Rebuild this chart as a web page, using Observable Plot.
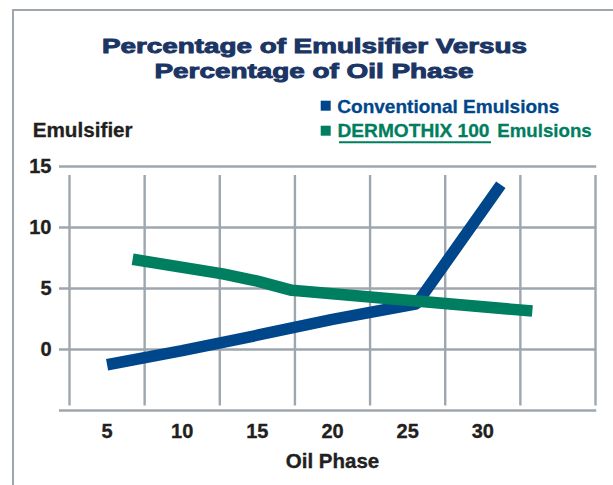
<!DOCTYPE html>
<html>
<head>
<meta charset="utf-8">
<script src="https://cdn.jsdelivr.net/npm/d3@7"></script>
<script src="https://cdn.jsdelivr.net/npm/@observablehq/plot@0.6"></script>
<style>
  html, body { margin: 0; padding: 0; background: #fff; }
  #wrap { position: relative; width: 613px; height: 485px; overflow: hidden; font-family: "Liberation Sans", Arial, sans-serif; }
  #frame { position: absolute; left: 11.5px; top: 8.7px; width: 700px; height: 600px; border-top: 2.6px solid #9ea6ae; border-left: 2.6px solid #9ea6ae; }
  #chart { position: absolute; left: 0; top: 0; }
  #overlay { position: absolute; left: 0; top: 0; pointer-events: none; }
</style>
</head>
<body>
<div id="wrap">
  <div id="frame"></div>
  <div id="chart"></div>
  <svg id="overlay" width="613" height="485" xmlns="http://www.w3.org/2000/svg" font-family="Liberation Sans, Arial, sans-serif" font-weight="bold">
    <text x="102" y="52.5" font-size="20" fill="#1b3565" stroke="#1b3565" stroke-width="0.9" textLength="425" lengthAdjust="spacingAndGlyphs">Percentage of Emulsifier Versus</text>
    <text x="154.5" y="77.5" font-size="20" fill="#1b3565" stroke="#1b3565" stroke-width="0.9" textLength="319" lengthAdjust="spacingAndGlyphs">Percentage of Oil Phase</text>

    <rect x="320.7" y="100.7" width="10" height="10" fill="#00468b"></rect>
    <text x="337.3" y="113" font-size="18.5" fill="#00468b" stroke="#00468b" stroke-width="0.3" textLength="222" lengthAdjust="spacingAndGlyphs">Conventional Emulsions</text>

    <rect x="320.7" y="125.7" width="10" height="10" fill="#007e60"></rect>
    <text x="337.5" y="137" font-size="18.5" fill="#007e60" stroke="#007e60" stroke-width="0.3" textLength="152" lengthAdjust="spacingAndGlyphs">DERMOTHIX 100</text>
    <text x="497.3" y="137" font-size="18.5" fill="#007e60" stroke="#007e60" stroke-width="0.3" textLength="94.4" lengthAdjust="spacingAndGlyphs">Emulsions</text>
    <line x1="339" x2="491" y1="142.3" y2="142.3" stroke="#007e60" stroke-width="2"></line>

    <text x="32.7" y="136.5" font-size="19.5" fill="#231f20" stroke="#231f20" stroke-width="0.3" textLength="100" lengthAdjust="spacingAndGlyphs">Emulsifier</text>
  </svg>
</div>
<script>
// Data
const oilConventional = [5, 10, 15, 20, 25.6, 31.2];
const emulsifierConventional = [-1.25, -0.1, 1.17, 2.47, 3.75, 13.5];

const oilDermothix = [6.7, 12.7, 15, 17.3, 33.3];
const emulsifierDermothix = [7.4, 6.2, 5.6, 4.85, 3.15];

const xTicks = [5, 10, 15, 20, 25, 30];
const yTicks = [0, 5, 10, 15];
const xGrid = [2.5, 7.5, 12.5, 17.5, 22.5, 27.5, 32.5, 37.5];
const yGrid = [-5, 0, 5, 10, 15];

const conventional = oilConventional.map((x, i) => ({oil: x, emulsifier: emulsifierConventional[i]}));
const dermothix = oilDermothix.map((x, i) => ({oil: x, emulsifier: emulsifierDermothix[i]}));

const gridColor = "#9ea6ae";

const chart = Plot.plot({
  width: 613,
  height: 485,
  marginLeft: 69,
  marginRight: 18,
  marginTop: 166,
  marginBottom: 75,
  style: {background: "transparent", fontFamily: "Liberation Sans, Arial, sans-serif", fontWeight: "bold", fontSize: "20px", color: "#231f20"},
  x: {domain: [2.5, 37.5]},
  y: {domain: [-5, 15]},
  marks: [
    Plot.ruleX(xGrid, {x: d => d, y1: -5, y2: 15, stroke: gridColor, strokeWidth: 2.4, insetTop: -4.5, insetBottom: -9}),
    Plot.ruleY(yGrid, {y: d => d, x1: 2.5, x2: 37.5, stroke: gridColor, strokeWidth: 2.4, insetLeft: -10, insetRight: -1.2}),
    Plot.axisX({ticks: xTicks, tickSize: 0, tickPadding: 13, label: null, fill: "#231f20", fontSize: 20}),
    Plot.axisY({ticks: yTicks, tickSize: 0, tickPadding: 18, label: null, fill: "#231f20", fontSize: 20}),
    Plot.text(["Oil Phase"], {frameAnchor: "bottom", x: 20, dy: 51, text: d => d, fontSize: 20.5, fontWeight: "bold", fill: "#231f20", lineAnchor: "middle"}),
    Plot.line(conventional, {x: "oil", y: "emulsifier", stroke: "#00468b", strokeWidth: 11.5, strokeLinecap: "butt", strokeLinejoin: "miter"}),
    Plot.line(dermothix, {x: "oil", y: "emulsifier", stroke: "#007e60", strokeWidth: 11.5, strokeLinecap: "butt", strokeLinejoin: "round"})
  ]
});
// slightly heavier tick labels, as in the reference's type
d3.select(chart).selectAll("g[aria-label$='tick label'] text, g[aria-label='text'] text")
  .attr("stroke", "#231f20").attr("stroke-width", 0.35);
document.getElementById("chart").appendChild(chart);
</script>
</body>
</html>
